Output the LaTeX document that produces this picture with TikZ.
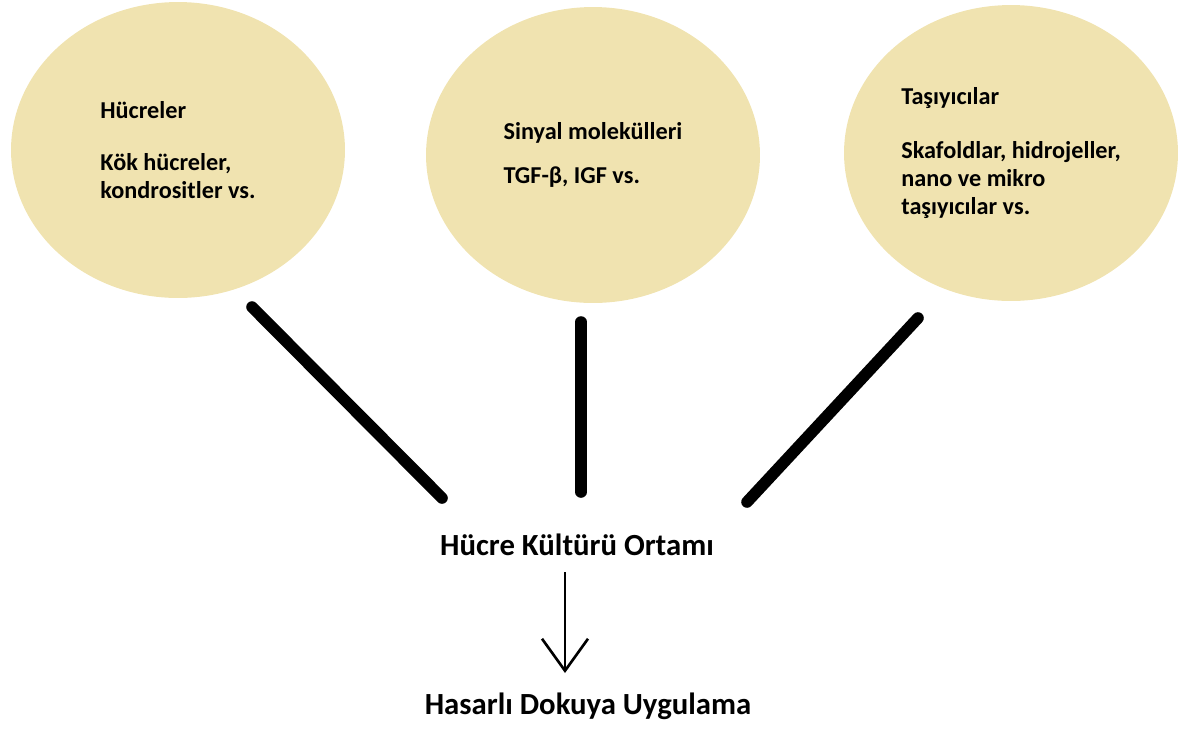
\documentclass[tikz,border=0pt]{standalone}
\usepackage{fontspec}
\setmainfont{Carlito}
\usepackage{xcolor}
\usetikzlibrary{shapes.geometric,arrows.meta,positioning}
\definecolor{cellSand}{RGB}{240,227,176}

\begin{document}
\begin{tikzpicture}[x=0.02cm,y=-0.02cm,
  blob/.style={ellipse,fill=cellSand,minimum width=6.68cm,minimum height=5.92cm,
               inner sep=0pt,align=left,font=\fontsize{13.8}{15.8}\selectfont\bfseries},
  stage/.style={font=\fontsize{17.5}{21}\selectfont\bfseries,inner sep=0pt},
  bar/.style={line width=6.6pt,line cap=round},
  flow/.style={-{Straight Barb[length=0.64cm,width=0.92cm]},line width=1.5pt}
]
\useasboundingbox (0,0) rectangle (1183,728);

% Three ingredients
\node[blob] (cells) at (178,150)
  {Hücreler\\[14pt]Kök hücreler,\\kondrositler vs.};
\node[blob] (signal) at (593,155)
  {Sinyal molekülleri\\[9pt]TGF-β, IGF vs.};
\node[blob] (carrier) at (1011,153)
  {Taşıyıcılar\\[15pt]Skafoldlar, hidrojeller,\\nano ve mikro\\taşıyıcılar vs.};

% Culture medium and application
\node[stage] (medium) at (577,545) {Hücre Kültürü Ortamı};
\node[stage] (apply) at (588,706) {Hasarlı Dokuya Uygulama};

% Bars into the medium
\foreach \src/\ax/\ay/\bx/\by in {cells/252/307/442/498,
                                  signal/581/322/581/492,
                                  carrier/918/318/747/502}
{
  \coordinate (\src-top) at (\ax,\ay);
  \coordinate (\src-end) at (\bx,\by);
  \draw[bar] (\src-top) -- (\src-end);
}

% Arrow down
\coordinate (flowTop) at (565,572);
\coordinate (flowTip) at (565,673);
\draw[flow] (flowTop) -- (flowTip);
\end{tikzpicture}
\end{document}
